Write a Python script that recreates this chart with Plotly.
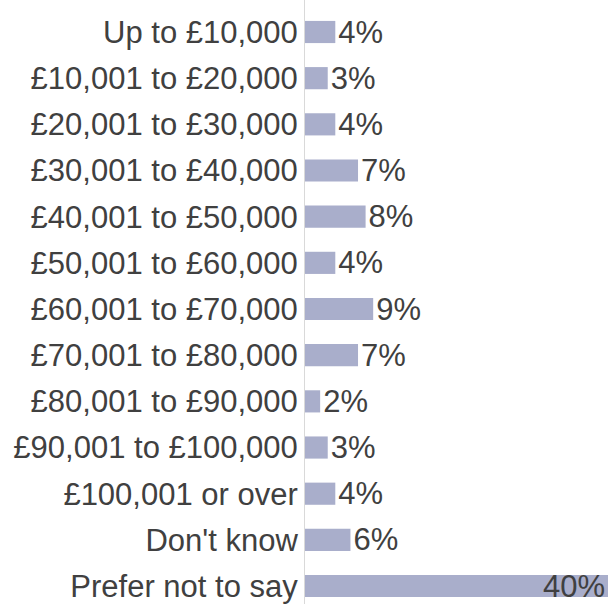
import plotly.graph_objects as go

# income bands, top to bottom
categories = [
    "Up to £10,000",
    "£10,001 to £20,000",
    "£20,001 to £30,000",
    "£30,001 to £40,000",
    "£40,001 to £50,000",
    "£50,001 to £60,000",
    "£60,001 to £70,000",
    "£70,001 to £80,000",
    "£80,001 to £90,000",
    "£90,001 to £100,000",
    "£100,001 or over",
    "Don't know",
    "Prefer not to say",
]
values = [4, 3, 4, 7, 8, 4, 9, 7, 2, 3, 4, 6, 40]

BAR_COLOR = "#A9AECB"
TEXT_COLOR = "#404040"
FONT = "Liberation Sans, Arial, sans-serif"

# the biggest bar fills the plot, so its label goes inside like in Excel
positions = ["inside" if v == max(values) else "outside" for v in values]

fig = go.Figure()
fig.add_trace(go.Bar(
    y=categories,
    x=values,
    orientation="h",
    marker=dict(color=BAR_COLOR, line=dict(width=0)),
    text=[f"{v}%" for v in values],
    textposition=positions,
    insidetextanchor="end",
    constraintext="none",
    textangle=0,
    cliponaxis=False,
    textfont=dict(family=FONT, size=31, color=TEXT_COLOR),
    insidetextfont=dict(family=FONT, size=31, color=TEXT_COLOR),
    outsidetextfont=dict(family=FONT, size=31, color=TEXT_COLOR),
    hoverinfo="skip",
))

fig.update_layout(
    width=608,
    height=604,
    margin=dict(l=305, r=0, t=0, b=0),
    paper_bgcolor="white",
    plot_bgcolor="white",
    bargap=0.52,
    showlegend=False,
    font=dict(family=FONT, size=31, color=TEXT_COLOR),
    xaxis=dict(
        range=[0, 40],
        visible=False,
        showgrid=False,
        zeroline=False,
    ),
    yaxis=dict(
        type="category",
        categoryorder="array",
        categoryarray=categories,
        range=[12.389, -0.693],
        showline=True,
        linecolor="#D9D9D9",
        linewidth=1,
        showgrid=False,
        ticks="",
        ticklabelstandoff=0,
        tickfont=dict(family=FONT, size=31, color=TEXT_COLOR),
        automargin=False,
    ),
)

# drop the default body margin so the figure fills the window exactly
fig.write_html(
    "out.html",
    config={"displayModeBar": False},
    post_script="document.body.style.margin='0';document.body.style.overflow='hidden';",
)
